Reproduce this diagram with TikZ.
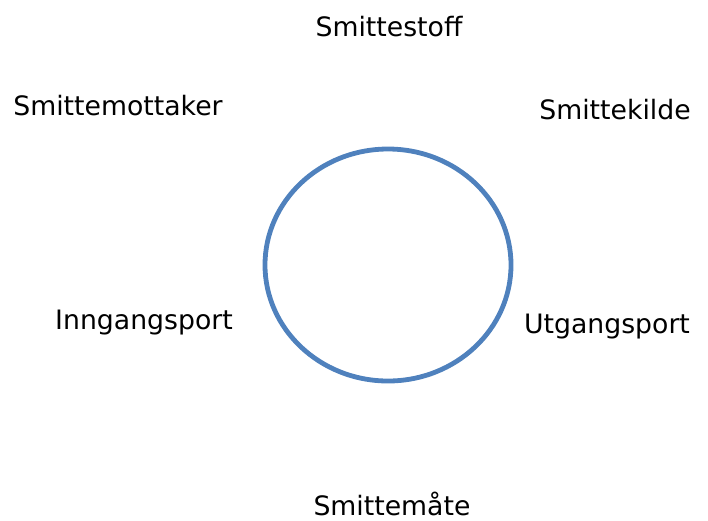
\documentclass[tikz,border=0pt]{standalone}
\usepackage{fontspec}
\setmainfont{DejaVu Sans}
\definecolor{ringblue}{HTML}{4F81BD}
\begin{document}
\begin{tikzpicture}[x=1pt,y=-1pt,
  lbl/.style={anchor=base,inner sep=0pt,font=\fontsize{26.7}{32}\selectfont}]
\useasboundingbox (0,0) rectangle (708,520);
\draw[ringblue,line width=4.8] (388,265) ellipse [x radius=123,y radius=116];
\node[lbl] (stoff) at (389,36) {Smittestoff};
\node[lbl] (mottaker) at (118,115) {Smittemottaker};
\node[lbl] (kilde) at (615,119) {Smittekilde};
\node[lbl] (inn) at (144,329) {Inngangsport};
\node[lbl] (ut) at (607,333) {Utgangsport};
\node[lbl] (maate) at (392,515) {Smittemåte};
\end{tikzpicture}
\end{document}
